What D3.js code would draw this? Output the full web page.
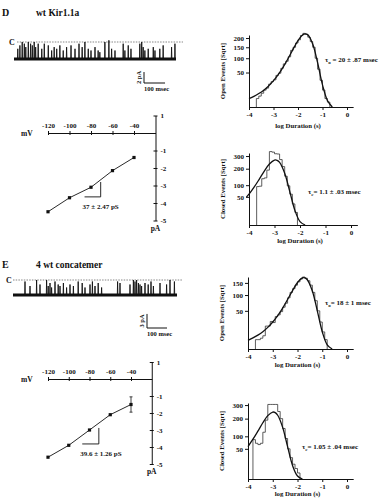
<!DOCTYPE html>
<html>
<head>
<meta charset="utf-8">
<script src="https://cdn.jsdelivr.net/npm/d3@7/dist/d3.min.js"></script>
<style>
  body { margin: 0; background: #fff; }
  svg { display: block; font-family: "Liberation Serif", "DejaVu Serif", serif; }
  .axis path, .axis line { stroke: #111; stroke-width: 1; }
  .axis text { font-size: 7px; font-weight: bold; fill: #111; font-family: "Liberation Serif", serif; }
  .lbl { font-size: 6.5px; font-weight: bold; fill: #111; }
</style>
</head>
<body>
<svg id="fig" width="389" height="500"></svg>
<script>
// ---------- data ----------

// single channel traces: closure times (msec) and closure depth (fraction of open current)
const closuresD = [18, 28, 39, 49, 56, 68, 79, 87, 96, 103, 115, 132, 144, 163, 179, 191, 203, 218, 234, 250,
  271, 290, 309, 324, 337, 353, 366, 385, 400, 408, 432, 451, 464, 480, 519, 527, 543, 556, 598, 607,
  614, 622, 638, 662, 670, 693, 709, 749, 765];
const depthD = [0.6, 0.8, 1.0, 0.9, 0.7, 1.0, 0.9, 0.8, 1.0, 0.7, 0.9, 0.6, 0.9, 0.8, 0.5, 0.7, 0.6, 0.8, 0.5, 0.7,
  0.8, 0.6, 0.9, 0.7, 1.0, 0.6, 0.5, 0.7, 0.5, 0.4, 1.0, 1.1, 0.6, 0.5, 0.9, 0.5, 0.8, 0.6, 0.9, 1.0,
  0.7, 0.5, 0.6, 0.7, 0.5, 0.6, 0.8, 0.7, 0.9];
const closuresE = [60, 85, 118, 135, 168, 176, 185, 193, 210, 226, 235, 252, 268, 285, 302, 326, 346, 360, 385, 397,
  410, 426, 443, 523, 535, 585, 602, 610, 618, 627, 635, 643, 660, 676, 690, 702, 735, 768, 785, 807];
const depthE = [0.9, 0.6, 1.0, 0.7, 1.0, 0.6, 0.8, 0.5, 0.9, 0.7, 0.6, 0.8, 0.5, 0.7, 0.6, 0.9, 0.8, 0.5, 0.7, 0.9,
  0.6, 0.8, 0.5, 0.9, 0.8, 0.7, 1.0, 0.9, 1.0, 0.8, 0.7, 0.6, 0.8, 0.7, 0.9, 0.6, 0.8, 0.7, 1.0, 0.9];

// current-voltage relations
const voltages = [-120, -100, -80, -60, -40];
const currentD = [-4.5, -3.7, -3.1, -2.15, -1.4];
const currentE = [-4.6, -3.9, -3.0, -2.1, -1.5];
const errorE = [0, 0, 0, 0, 0.45];
const ivTicksX = [-120, -100, -80, -60, -40];
const ivTicksY = [1, -1, -2, -3, -4, -5];
const slopeTriD = [[-86, -3.65], [-71, -3.65], [-71, -2.8]];
const slopeTriE = [[-87, -3.82], [-71, -3.82], [-71, -2.88]];

// dwell time histograms (log10 duration bins of 0.1, counts)
const logTicks = [-4, -3, -2, -1, 0];
const openBinsD = [3, 5, 8, 12, 15, 22, 27, 31, 42, 48, 63, 78, 88, 106, 135, 150, 172, 190, 215, 228,
  222, 205, 180, 150, 100, 60, 30, 12, 3, 1];
const closedBinsD = [93, 95, 135, 140, 190, 340, 335, 320, 318, 270, 215, 150, 97, 60, 28, 10];
const openBinsE = [3, 3, 4, 6, 18, 18, 26, 24, 36, 40, 48, 60, 72, 90, 110, 125, 140, 155, 168, 178,
  172, 160, 140, 110, 80, 50, 25, 10, 3];
const closedBinsE = [85, 70, 65, 70, 120, 190, 305, 305, 305, 305, 250, 200, 140, 90, 50, 25, 12, 6, 2];

// fitted curves
const openFitLog = [-4, -3.8, -3.6, -3.4, -3.2, -3.0, -2.8, -2.6, -2.4, -2.2, -2.0, -1.8, -1.7, -1.6, -1.4, -1.2, -1.0, -0.8, -0.6];
const openFitD = [3, 4.8, 7.6, 11.9, 18.7, 29.1, 44.7, 67.6, 99.7, 140.8, 185.6, 219.5, 225, 219, 166.5, 82.5, 20.6, 1.8, 0];
const openFitE = [2.6, 4.2, 6.6, 10.3, 16.1, 25.0, 38.3, 57.6, 84.3, 117.1, 151.7, 173.7, 174, 164.4, 115.2, 50.1, 10.2, 0.6, 0];
const closedFitLogD = [-4.1, -4.0, -3.8, -3.6, -3.4, -3.2, -3.0, -2.9, -2.8, -2.6, -2.4, -2.2, -2.0, -1.8];
const closedFitD = [49, 60, 90.5, 131.8, 182.9, 234.6, 265.9, 264, 247.8, 169, 70.4, 13.5, 0.75, 0];
const closedFitLogE = [-4.0, -3.8, -3.6, -3.4, -3.2, -3.0, -2.9, -2.8, -2.6, -2.4, -2.2, -2.0, -1.8];
const closedFitE = [57.9, 86.9, 125.8, 173.7, 220.3, 245.8, 241.9, 223, 146.5, 57.3, 9.9, 0.5, 0];

// ---------- drawing ----------
const svg = d3.select('#fig');
const ink = '#111';

function drawTrace(o) {
  const x = d3.scaleLinear().domain([0, o.span]).range([o.x0, o.x1]);
  const y = d3.scaleLinear().domain([o.open, 0]).range([o.yOpen, o.yClosed]);
  const g = svg.append('g');

  // closed level
  g.append('line')
    .attr('x1', o.dashFrom).attr('x2', o.dashTo)
    .attr('y1', y(0)).attr('y2', y(0))
    .attr('stroke', '#555').attr('stroke-width', 0.7)
    .attr('stroke-dasharray', '1.5,1.2');
  g.append('text').attr('x', o.cX).attr('y', y(0) + 3)
    .attr('font-size', 8).attr('font-weight', 'bold').attr('fill', ink).text('C');

  // open level noise band
  g.append('line')
    .attr('x1', x(0)).attr('x2', x(o.span))
    .attr('y1', y(o.open)).attr('y2', y(o.open))
    .attr('stroke', ink).attr('stroke-width', 2.8);

  var pts = [[0, o.open]];
  o.times.forEach(function(t, i) {
    var lvl = o.open * (1 - o.depth[i]);
    pts.push([t - 1.5, o.open], [t, lvl], [t + 1.5, o.open]);
  });
  pts.push([o.span, o.open]);
  g.append('path').datum(pts)
    .attr('d', d3.line().x(d => x(d[0])).y(d => y(d[1])))
    .attr('fill', 'none').attr('stroke', ink).attr('stroke-width', 0.9);

  // scale bar
  const h = y(-o.barPA) - y(0);
  const w = x(100) - x(0);
  g.append('path')
    .attr('d', 'M' + o.barX + ',' + (o.barY - h) + 'V' + o.barY + 'H' + (o.barX + w))
    .attr('fill', 'none').attr('stroke', ink).attr('stroke-width', 1);
  g.append('text')
    .attr('transform', 'translate(' + (o.barX - 3) + ',' + (o.barY - h / 2) + ') rotate(-90)')
    .attr('text-anchor', 'middle').attr('class', 'lbl').text(o.barPA + ' pA');
  g.append('text').attr('x', o.barX).attr('y', o.barY + 8)
    .attr('class', 'lbl').text('100  msec');
}

function drawIV(o) {
  const x = d3.scaleLinear().domain([-120, -20]).range([o.xl, o.xr]);
  const y = d3.scaleLinear().domain([1, -5]).range([o.yt, o.yb]);
  const g = svg.append('g');

  const ax = g.append('g').attr('class', 'axis')
    .attr('transform', 'translate(0,' + y(0) + ')')
    .call(d3.axisTop(x).tickValues(ivTicksX).tickFormat(d => d).tickSize(2).tickSizeOuter(0).tickPadding(3));
  ax.selectAll('.tick line').attr('y1', 2);

  const ay = g.append('g').attr('class', 'axis')
    .attr('transform', 'translate(' + x(-20) + ',0)')
    .call(d3.axisRight(y).tickValues(ivTicksY).tickFormat(d => d).tickSize(2).tickSizeOuter(0).tickPadding(3));
  ay.selectAll('.tick line').attr('x1', -2);

  g.append('text').attr('x', o.xl - 27).attr('y', y(0) + 3)
    .attr('font-size', 7.5).attr('font-weight', 'bold').attr('fill', ink).text('mV');
  g.append('text').attr('x', x(-20)).attr('y', y(-5) + 10).attr('text-anchor', 'middle')
    .attr('font-size', 7.5).attr('font-weight', 'bold').attr('fill', ink).text('pA');

  const pts = voltages.map((v, i) => [v, o.current[i]]);
  g.append('path').datum(pts)
    .attr('d', d3.line().x(d => x(d[0])).y(d => y(d[1])))
    .attr('fill', 'none').attr('stroke', ink).attr('stroke-width', 0.9);

  if (o.error) {
    voltages.forEach(function(v, i) {
      if (!o.error[i]) return;
      const y1 = y(o.current[i] + o.error[i]), y2 = y(o.current[i] - o.error[i]);
      g.append('path')
        .attr('d', 'M' + x(v) + ',' + y1 + 'V' + y2 + 'M' + (x(v) - 1.5) + ',' + y1 + 'h3M' + (x(v) - 1.5) + ',' + y2 + 'h3')
        .attr('stroke', ink).attr('stroke-width', 0.8).attr('fill', 'none');
    });
  }
  g.selectAll('rect.pt').data(pts).enter().append('rect')
    .attr('x', d => x(d[0]) - 1.6).attr('y', d => y(d[1]) - 1.6)
    .attr('width', 3.2).attr('height', 3.2).attr('fill', ink);

  g.append('path').datum(o.tri)
    .attr('d', d3.line().x(d => x(d[0])).y(d => y(d[1])))
    .attr('fill', 'none').attr('stroke', ink).attr('stroke-width', 0.9);
  g.append('text').attr('x', x(o.tri[0][0]) - 2).attr('y', y(o.tri[0][1]) + 12)
    .attr('font-size', 7).attr('font-weight', 'bold').attr('fill', ink).text(o.label);
}

function drawHist(o) {
  const x = d3.scaleLinear().domain([-4, 0.25]).range([o.xl, o.xl + 4.25 * o.unit]);
  const y = d3.scaleSqrt().domain([0, o.yMax]).range([o.yb, o.yt]);
  const g = svg.append('g');

  g.append('g').attr('class', 'axis')
    .attr('transform', 'translate(0,' + o.yb + ')')
    .call(d3.axisBottom(x).tickValues(logTicks).tickFormat(d => d).tickSize(3).tickSizeOuter(0).tickPadding(2));
  g.append('g').attr('class', 'axis')
    .attr('transform', 'translate(' + o.xl + ',0)')
    .call(d3.axisLeft(y).tickValues(o.yTicks).tickFormat(d => d).tickSize(3).tickSizeOuter(0).tickPadding(2));

  // histogram steps
  var pts = [[o.binStart, 0]];
  o.bins.forEach(function(c, i) {
    pts.push([o.binStart + i * 0.1, c], [o.binStart + (i + 1) * 0.1, c]);
  });
  pts.push([o.binStart + o.bins.length * 0.1, 0]);
  g.append('path').datum(pts)
    .attr('d', d3.line().x(d => x(d[0])).y(d => y(d[1])))
    .attr('fill', 'none').attr('stroke', '#333').attr('stroke-width', 0.8);

  // fit
  const fit = o.fitLog.map((v, i) => [v, o.fit[i]]);
  g.append('path').datum(fit)
    .attr('d', d3.line().x(d => x(d[0])).y(d => y(d[1])).curve(d3.curveCatmullRom))
    .attr('fill', 'none').attr('stroke', ink).attr('stroke-width', 1.3);

  g.append('text')
    .attr('transform', 'translate(' + (o.xl - 24) + ',' + ((o.yb + o.yt) / 2) + ') rotate(-90)')
    .attr('text-anchor', 'middle').attr('font-size', 6.8).attr('font-weight', 'bold').attr('fill', ink)
    .text(o.yLabel);
  g.append('text').attr('x', x(-2)).attr('y', o.yb + o.xLabelDy).attr('text-anchor', 'middle')
    .attr('font-size', 6.8).attr('font-weight', 'bold').attr('fill', ink).text('log Duration (s)');

  const t = g.append('text').attr('x', o.tauX).attr('y', o.tauY)
    .attr('font-size', 7).attr('font-weight', 'bold').attr('fill', ink);
  t.append('tspan').text('τ');
  t.append('tspan').attr('font-size', 5).attr('dy', 1.5).text(o.tauSub);
  t.append('tspan').attr('dy', -1.5).text(o.tauText);
}

// headings
svg.append('text').attr('x', 2).attr('y', 16).attr('font-size', 10).attr('font-weight', 'bold').attr('fill', ink).text('D');
svg.append('text').attr('x', 36).attr('y', 16).attr('font-size', 9.5).attr('font-weight', 'bold').attr('fill', ink).text('wt Kir1.1a');
svg.append('text').attr('x', 2).attr('y', 268).attr('font-size', 10).attr('font-weight', 'bold').attr('fill', ink).text('E');
svg.append('text').attr('x', 36).attr('y', 268).attr('font-size', 9.5).attr('font-weight', 'bold').attr('fill', ink).text('4 wt concatemer');

drawTrace({ times: closuresD, depth: depthD, span: 770, x0: 14, x1: 176, open: -3.1, yOpen: 59, yClosed: 42,
  dashFrom: 17, dashTo: 183, cX: 9, barPA: 2, barX: 144, barY: 83 });
drawTrace({ times: closuresE, depth: depthE, span: 820, x0: 13, x1: 177, open: -3.2, yOpen: 295, yClosed: 280,
  dashFrom: 13, dashTo: 183, cX: 6, barPA: 3, barX: 147, barY: 328 });

drawIV({ current: currentD, xl: 48, xr: 155.5, yt: 115.5, yb: 220.5, tri: slopeTriD, label: '37 ± 2.47 pS' });
drawIV({ current: currentE, error: errorE, xl: 48, xr: 151.75, yt: 362, yb: 464, tri: slopeTriE, label: '39.6 ± 1.26 pS' });

drawHist({ xl: 249, unit: 24.5, yb: 107, yt: 35, yMax: 218, yTicks: [50, 100, 150, 200],
  bins: openBinsD, binStart: -3.7, fitLog: openFitLog, fit: openFitD, yLabel: 'Open Events [Sqrt]', xLabelDy: 21,
  tauX: 325, tauY: 62, tauSub: 'o', tauText: ' =  20 ± .87 msec' });
drawHist({ xl: 249, unit: 25.5, yb: 225, yt: 153, yMax: 327, yTicks: [50, 100, 200, 300],
  bins: closedBinsD, binStart: -3.7, fitLog: closedFitLogD, fit: closedFitD, yLabel: 'Closed Events [Sqrt]', xLabelDy: 18,
  tauX: 308, tauY: 194, tauSub: 'c', tauText: '=  1.1 ± .03 msec' });
drawHist({ xl: 248, unit: 24.75, yb: 349, yt: 277, yMax: 178, yTicks: [50, 100, 150],
  bins: openBinsE, binStart: -3.7, fitLog: openFitLog, fit: openFitE, yLabel: 'Open Events [Sqrt]', xLabelDy: 18,
  tauX: 325, tauY: 305, tauSub: 'o', tauText: '=  18 ± 1 msec' });
drawHist({ xl: 248, unit: 24.75, yb: 479, yt: 403, yMax: 317, yTicks: [50, 100, 200, 300],
  bins: closedBinsE, binStart: -3.8, fitLog: closedFitLogE, fit: closedFitE, yLabel: 'Closed Events [Sqrt]', xLabelDy: 17,
  tauX: 302, tauY: 449, tauSub: 'c', tauText: '=  1.05 ± .04 msec' });
</script>
</body>
</html>
